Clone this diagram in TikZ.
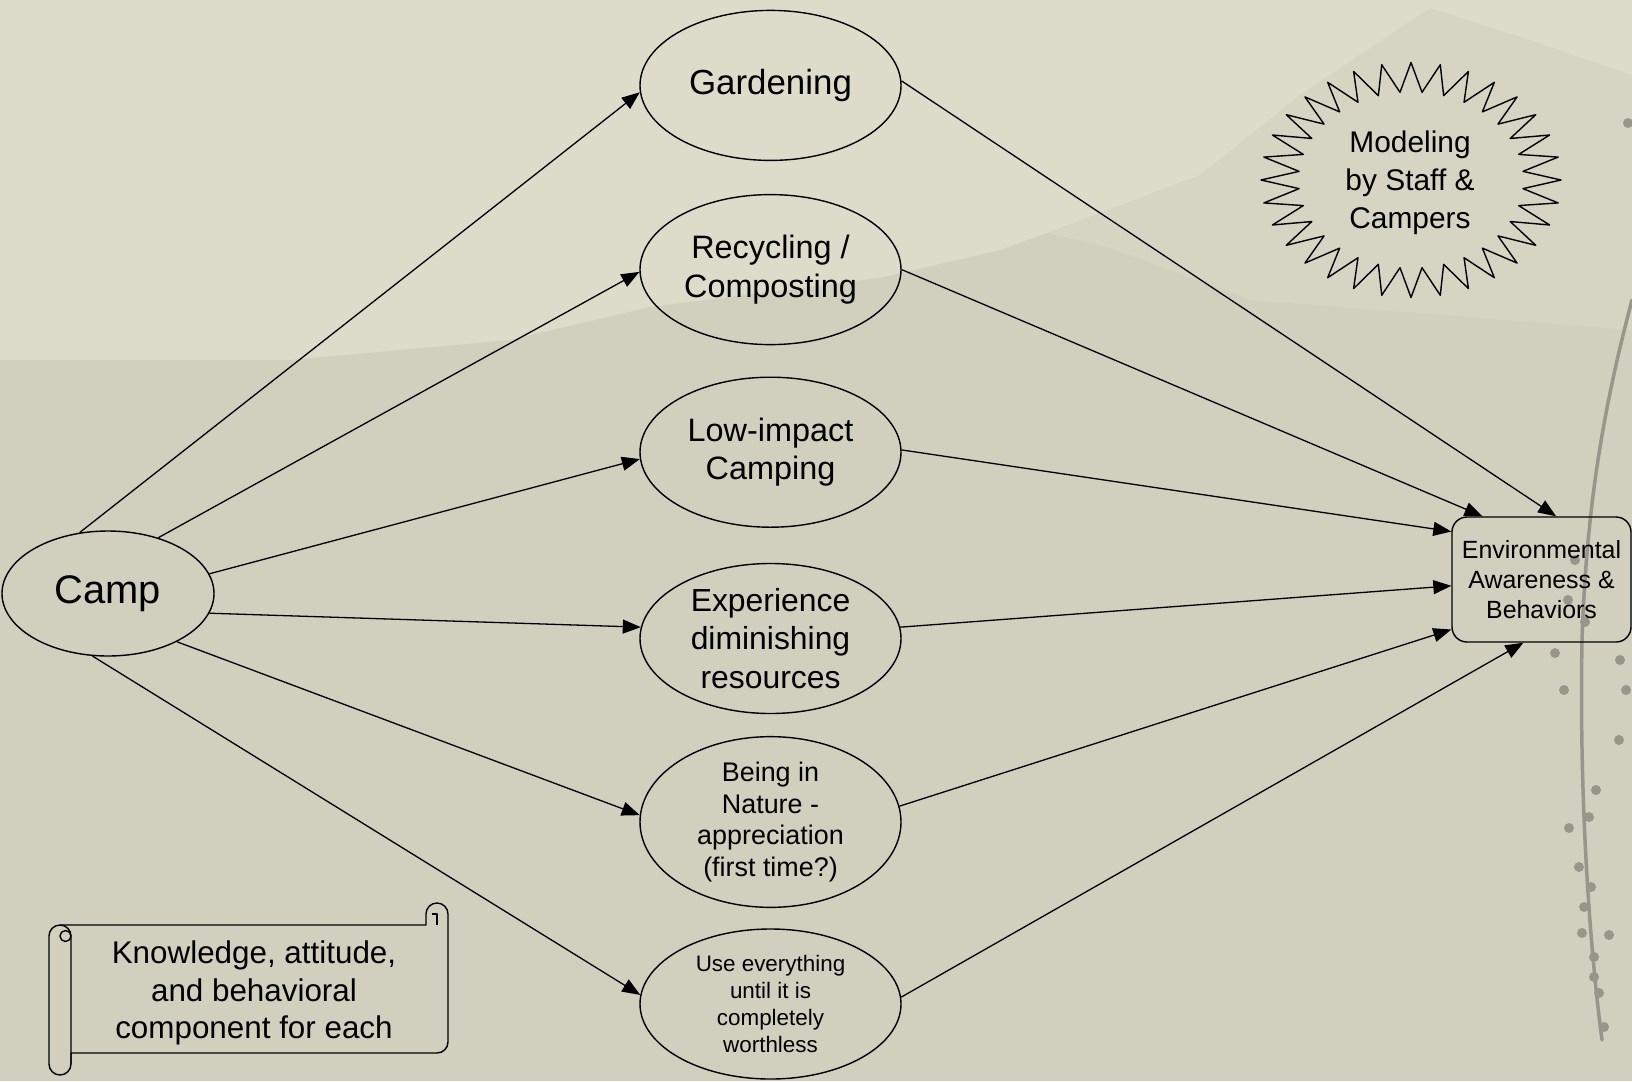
\documentclass[tikz,border=0pt]{standalone}
\usepackage{fontspec}
\setmainfont{Liberation Sans}
\usetikzlibrary{arrows.meta,shapes.geometric}
\definecolor{sky}{HTML}{DDDCCB}
\definecolor{peak}{HTML}{D6D5C4}
\definecolor{ground}{HTML}{D1CFBE}
\definecolor{vine}{HTML}{98968A}
\newcommand\setfs[2]{\fontsize{#1}{#2}\selectfont}

\begin{document}
\begin{tikzpicture}[x=1bp,y=1bp,
  bubble/.style={ellipse,draw,line width=1.4bp,minimum width=261bp,
    minimum height=150bp,inner sep=0pt,align=center},
  flow/.style={line width=1.3bp,-{Triangle[length=18bp,width=14bp]}},
  outline/.style={line width=1.4bp,line join=round}]

% backdrop: pale sky, a distant peak and a darker landscape
\fill[sky] (0,0) rectangle (1632,-1081);
\fill[peak] (1047,-233) -- (1200,-175) -- (1300,-95) -- (1430,-8) -- (1530,-40)
  -- (1632,-75) -- (1632,-400) -- (1047,-400) -- cycle;
\fill[ground] (0,-360) -- (290,-360) -- (510,-340) -- (650,-307) -- (880,-278)
  -- (1000,-250) -- (1047,-233) -- (1110,-248) -- (1250,-300) -- (1632,-330)
  -- (1632,-1081) -- (0,-1081) -- cycle;
\useasboundingbox (0,0) rectangle (1632,-1081);

% hanging vine at the right edge
\draw[vine,line width=3.5bp,line cap=round] (1632,-300) .. controls (1600,-420) and (1586,-520) .. (1582,-640)
  .. controls (1579,-800) and (1590,-950) .. (1602,-1040);
\foreach \p in {(1555,-653),(1564,-690),(1619,-740),(1596,-790),(1569,-828),(1589,-817),
  (1579,-867),(1591,-887),(1584,-907),(1582,-933),(1609,-935),(1594,-957),(1594,-977),
  (1599,-993),(1604,-1027),(1628,-123),(1620,-660),(1626,-690),(1575,-560),(1568,-600),(1585,-622)}
  \fill[vine] \p circle[radius=5];

% source and activities
\node[bubble,minimum width=212bp,minimum height=125bp,font=\setfs{40}{48}] (camp) at (108,-593.5) {\raisebox{-3bp}{Camp}};
\node[bubble,font=\setfs{35}{42}] (gard) at (770.5,-85.4) {Gardening};
\node[bubble,font=\setfs{32.5}{39.5}] (recy) at (770.5,-269.6) {Recycling /\\Composting};
\node[bubble,font=\setfs{32.5}{38}] (lowi) at (770.5,-452.2) {Low-impact\\Camping};
\node[bubble,font=\setfs{32}{38.5}] (expe) at (770.5,-638.5) {Experience\\diminishing\\resources};
\node[bubble,font=\setfs{27}{32}] (bein) at (770.5,-822) {Being in\\Nature -\\appreciation\\(first time?)};
\node[bubble,font=\setfs{22.5}{27}] (usee) at (770.5,-1004) {Use everything\\until it is\\completely\\worthless};

% outcome
\node[draw,rounded corners=15bp,line width=1.4bp,minimum width=179bp,minimum height=125bp,
  inner sep=0pt,align=center,font=\setfs{25}{30.5}] (env) at (1541.5,-579.5)
  {Environmental\\Awareness \&\\Behaviors};

% 32-point burst
\draw[outline] (1411,-62.5) \foreach \k in {1,...,63}{
  -- ({1411+150*(1-0.25*mod(\k,2))*cos(90+5.625*\k)},{-180+117.5*(1-0.25*mod(\k,2))*sin(90+5.625*\k)}) } -- cycle;
\node[align=center,font=\setfs{30}{38}] (model) at (1410,-183) {Modeling\\by Staff \&\\Campers};

% horizontal scroll
\draw[outline] (49,-936) arc[start angle=180,end angle=90,radius=11] -- (426,-925) -- (426,-914)
  arc[start angle=180,end angle=0,radius=11] -- (448,-1042)
  arc[start angle=0,end angle=-90,radius=11] -- (71,-1053) -- (71,-1064)
  arc[start angle=0,end angle=-180,radius=11] -- cycle;
\draw[outline] (60,-925) arc[start angle=90,end angle=0,radius=11] -- (71,-1064);
\draw[outline] (65.5,-936) circle[radius=5.5];
\draw[outline] (431.5,-914) -- (437,-914) -- (437,-925);
\node[align=center,font=\setfs{31.5}{37.5}] (note) at (254,-993) {Knowledge, attitude,\\and behavioral\\component for each};

% camp feeds each activity
\draw[flow] (camp.115.6) -- (gard.183.8);
\draw[flow] (camp.48.4) -- (recy.181.4);
\draw[flow] (camp.11.9) -- (lowi.183.9);
\draw[flow] (camp.-11.4) -- (expe.175.7);
\draw[flow] (camp.-35.2) -- (bein.177);
\draw[flow] (camp.-104.4) -- (usee.176.5);

% each activity feeds the outcome
\draw[flow] (gard.2.8) -- (env.77.8);
\draw[flow] (recy.-0.9) -- (env.133.1);
\draw[flow] (lowi.1.1) -- (env.152);
\draw[flow] (expe.5.2) -- (env.184.8);
\draw[flow] (bein.7.6) -- (env.209.4);
\draw[flow] (usee.3) -- (env.254.8);
\end{tikzpicture}
\end{document}
